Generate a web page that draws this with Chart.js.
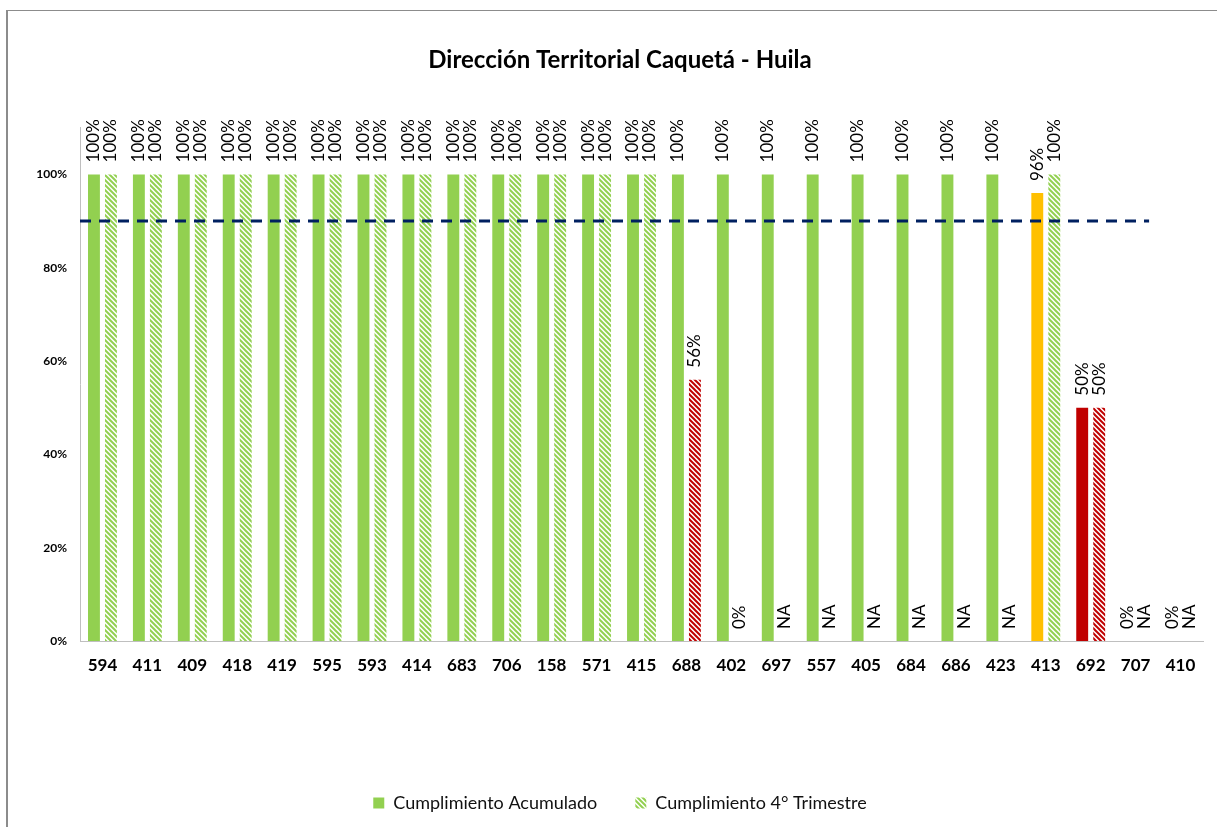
<!DOCTYPE html>
<html lang="es">
<head>
<meta charset="utf-8">
<title>Dirección Territorial Caquetá - Huila</title>
<script src="https://cdn.jsdelivr.net/npm/chart.js@4.4.1/dist/chart.umd.min.js"></script>
<style>
  html, body { margin: 0; padding: 0; background: #fff; overflow: hidden; }
  #wrap { position: relative; width: 1217px; height: 827px; }
  #frame {
    position: absolute; left: 6px; top: 10px; width: 1300px; height: 900px;
    border-top: 1px solid #8c8c8c; border-left: 2px solid #8c8c8c;
    pointer-events: none;
  }
</style>
</head>
<body>
<div id="wrap">
  <canvas id="chart" width="1217" height="827"></canvas>
  <div id="frame"></div>
</div>
<script>
const categories = [
  '594', '411', '409', '418', '419', '595', '593', '414', '683', '706', '158', '571', '415',
  '688', '402', '697', '557', '405', '684', '686', '423', '413', '692', '707', '410',
];

// Cumplimiento Acumulado (null = NA)
const acumulado = [
  1, 1, 1, 1, 1, 1, 1, 1, 1, 1, 1, 1, 1,
  1, 1, 1, 1, 1, 1, 1, 1, 0.96, 0.5, 0, 0,
];

// Cumplimiento 4° Trimestre (null = NA)
const trimestre = [
  1, 1, 1, 1, 1, 1, 1, 1, 1, 1, 1, 1, 1,
  0.56, 0, null, null, null, null, null, null, 1, 0.5, null, null,
];

// Meta 90%: value and extent along the category axis (category index units)
const metaValue = 0.9;
const metaFrom = -0.5;
const metaTo = 23.3;

const yTickValues = [0, 0.2, 0.4, 0.6, 0.8, 1];

const GREEN = '#92d050';
const YELLOW = '#ffc000';
const RED = '#c00000';
const FONT = 'Lato';

function statusColor(v) {
  if (v === null || v >= 1) return GREEN;
  if (v >= 0.9) return YELLOW;
  return RED;
}

// Excel-like "wide downward diagonal" fill
function makeHatch(color) {
  const size = 5;
  const c = document.createElement('canvas');
  c.width = size;
  c.height = size;
  const g = c.getContext('2d');
  g.strokeStyle = color;
  g.lineWidth = 2;
  g.lineCap = 'square';
  for (const off of [-size, 0, size]) {
    g.beginPath();
    g.moveTo(off, 0);
    g.lineTo(off + size, size);
    g.stroke();
  }
  return g.createPattern(c, 'repeat');
}

const hatchGreen = makeHatch(GREEN);
const hatchRed = makeHatch(RED);

function hatchColor(v) {
  return statusColor(v) === RED ? hatchRed : hatchGreen;
}

function pctLabel(v) {
  return v === null ? 'NA' : Math.round(v * 100) + '%';
}

// bars sit on a linear index axis so the meta line can span past the centres
const toPoints = (values) => values.map((v, i) => ({ x: i, y: v }));

// Vertical value labels above each bar
const barLabels = {
  id: 'barLabels',
  afterDatasetsDraw(chart) {
    const { ctx } = chart;
    const yScale = chart.scales.y;
    const sources = [acumulado, trimestre];
    ctx.save();
    ctx.font = `17px ${FONT}`;
    ctx.fillStyle = '#000';
    ctx.textAlign = 'left';
    ctx.textBaseline = 'middle';
    sources.forEach((values, di) => {
      const m = chart.getDatasetMeta(di);
      m.data.forEach((bar, i) => {
        const v = values[i];
        const y = yScale.getPixelForValue(v === null ? 0 : v) - 12;
        ctx.save();
        ctx.translate(bar.x, y);
        ctx.rotate(-Math.PI / 2);
        ctx.fillText(pctLabel(v), 0, 0);
        ctx.restore();
      });
    });
    ctx.restore();
  },
};

function draw() {
  new Chart(document.getElementById('chart'), {
    type: 'bar',
    data: {
      datasets: [
        {
          label: 'Cumplimiento Acumulado',
          data: toPoints(acumulado),
          backgroundColor: acumulado.map(statusColor),
          order: 1,
        },
        {
          label: 'Cumplimiento 4° Trimestre',
          data: toPoints(trimestre),
          backgroundColor: trimestre.map(hatchColor),
          order: 1,
        },
        {
          type: 'line',
          label: 'Meta',
          data: [
            { x: metaFrom, y: metaValue },
            { x: metaTo, y: metaValue },
          ],
          borderColor: '#002060',
          borderWidth: 3,
          borderDash: [11, 8],
          pointRadius: 0,
          fill: false,
          order: 0,
        },
      ],
    },
    options: {
      responsive: false,
      animation: false,
      events: [],
      layout: { padding: { top: 0, left: 37, right: 14, bottom: 5 } },
      datasets: {
        bar: { categoryPercentage: 0.757, barPercentage: 0.7, borderWidth: 0 },
      },
      plugins: {
        title: {
          display: true,
          text: 'Dirección Territorial Caquetá - Huila',
          color: '#000',
          font: { family: FONT, size: 24, weight: 'bold' },
          padding: { top: 46, bottom: 53 },
        },
        legend: {
          position: 'bottom',
          labels: {
            filter: (item) => item.text !== 'Meta',
            color: '#111',
            font: { family: FONT, size: 18 },
            boxWidth: 11,
            boxHeight: 11,
            padding: 38,
          },
        },
        tooltip: { enabled: false },
      },
      scales: {
        x: {
          type: 'linear',
          min: -0.5,
          max: categories.length - 0.5,
          offset: false,
          grid: { display: false, drawTicks: false },
          border: { display: true, color: '#bfbfbf', width: 1 },
          afterBuildTicks: (scale) => {
            scale.ticks = categories.map((c, i) => ({ value: i }));
          },
          ticks: {
            color: '#000',
            font: { family: FONT, size: 17, weight: 'bold' },
            padding: 14,
            maxRotation: 0,
            autoSkip: false,
            callback: (v) => categories[v],
          },
          afterFit: (scale) => { scale.height = 115; },
        },
        y: {
          min: 0,
          max: 1.1,
          grid: { display: false, drawTicks: false },
          border: { display: true, color: '#bfbfbf', width: 1 },
          afterBuildTicks: (scale) => {
            scale.ticks = yTickValues.map((v) => ({ value: v }));
          },
          ticks: {
            color: '#000',
            font: { family: FONT, size: 12, weight: 'bold' },
            padding: 13,
            callback: (v) => Math.round(v * 100) + '%',
          },
          afterFit: (scale) => { scale.width = 43; },
        },
      },
    },
    plugins: [barLabels],
  });
}

Promise.all([
  document.fonts.load(`16px ${FONT}`),
  document.fonts.load(`bold 16px ${FONT}`),
]).then(draw, draw);
</script>
</body>
</html>
